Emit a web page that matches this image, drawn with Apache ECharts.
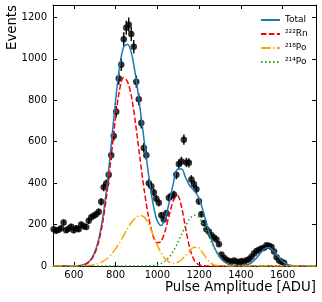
<!DOCTYPE html>
<html>
<head>
<meta charset="utf-8">
<script src="https://cdn.jsdelivr.net/npm/echarts@6/dist/echarts.min.js"></script>
<style>html,body{margin:0;padding:0;background:#fff}#c{width:322px;height:302px}</style>
</head>
<body>
<div id="c"></div>
<script>
// Histogram data (bin centers in ADU, counts)
const binCenters = [503,515,527,539,551,563,575,587,599,611,623,635,647,659,671,683,695,707,719,731,743,755,767,779,791,803,815,827,839,851,863,875,887,899,911,923,935,947,959,971,983,995,1007,1019,1031,1043,1055,1067,1079,1091,1103,1115,1127,1139,1151,1163,1175,1187,1199,1211,1223,1235,1247,1259,1271,1283,1295,1307,1319,1331,1343,1355,1367,1379,1391,1403,1415,1427,1439,1451,1463,1475,1487,1499,1511,1523,1535,1547,1559,1571,1583,1595,1607];
const counts = [178,170,175,182,210,172,180,190,172,182,
  178,200,192,188,218,235,242,250,262,310,
  380,398,440,535,628,745,905,972,1095,1150,
  1165,1120,1058,890,805,690,570,535,400,385,
  355,325,305,245,225,255,330,338,345,440,
  492,505,610,500,498,418,395,370,312,250,
  208,178,165,148,138,128,105,56,40,30,
  24,20,26,22,18,24,20,28,32,45,
  60,72,78,84,88,100,98,92,70,42,
  26,20,14];
// Fit curves
const curveX = [500,519,539,559,579,599,618,638,658,678,698,718,738,758,778,798,818,838,857,877,897,917,937,957,977,997,1017,1037,1057,1077,1096,1116,1136,1156,1176,1196,1216,1236,1256,1276,1296,1315,1335,1355,1375,1395,1415,1435,1455,1475,1495,1515,1534,1554,1574,1594,1614,1634,1654,1674,1694,1714,1734,1760];
const totalY = [0,0,0,0,0,0,1,4,11,27,62,125,230,383,575,781,957,1056,1070,1023,909,762,603,447,313,224,195,228,308,401,467,468,425,387,364,335,277,203,135,83,48,25,12,5,2,1,2,7,19,39,64,85,89,76,51,28,12,4,1,0,0,0,0,0];
const rn222Y = [0,0,0,0,0,0,1,3,9,24,55,113,209,348,521,701,846,910,890,812,676,518,366,242,154,112,118,168,246,317,340,285,179,84,29,8,2,0,0,0,0,0,0,0,0,0,0,0,0,0,0,0,0,0,0,0,0,0,0,0,0,0,0,0];
const po218Y = [0,0,0,0,0,0,0,1,2,3,7,12,21,35,54,80,111,146,180,211,233,244,236,204,157,107,65,36,19,12,17,30,51,74,90,89,65,35,14,4,1,0,0,0,0,0,0,0,0,0,0,0,0,0,0,0,0,0,0,0,0,0,0,0];
const po214Y = [0,0,0,0,0,0,0,0,0,0,0,0,0,0,0,0,0,0,0,0,0,0,1,1,2,5,12,24,43,72,110,153,195,229,245,238,210,168,121,79,47,25,12,5,2,1,0,0,0,0,0,0,0,0,0,0,0,0,0,0,0,0,0,0];
const xTickValues = [600,800,1000,1200,1400,1600];
const yTickValues = [0,200,400,600,800,1000,1200];
const legendNames = ['Total','\u00b2\u00b2\u00b2Rn','\u00b2\u00b9\u2078Po','\u00b2\u00b9\u2074Po'];

const FONT = 'DejaVu Sans';
const pts = binCenters.map((x,i)=>[x,counts[i],Math.sqrt(counts[i])]);
const zip = (ys)=>curveX.map((x,i)=>[x,ys[i]]);

const chart = echarts.init(document.getElementById('c'), null, {renderer:'canvas'});
const axisBase = (pos, show) => {
  const isX = pos==='top'||pos==='bottom';
  return {
    type:'value', position:pos, min: isX?500:0, max: isX?1760:1260,
    axisLine:{show:true,onZero:false,lineStyle:{color:'#000',width:1}},
    axisTick:{show:true,inside:true,length:4,customValues:isX?xTickValues:yTickValues,lineStyle:{color:'#000',width:1}},
    axisLabel:{show:show,customValues:isX?xTickValues:yTickValues,formatter:(v)=>String(v),color:'#000',fontSize:10,fontFamily:FONT,margin:(pos==='bottom'?4:6)},
    splitLine:{show:false}
  };
};
const lineSeries = (name, data, color, type, z) => ({
  name, type:'line', data, smooth:0.3, symbol:'none', showSymbol:false, z,
  lineStyle:{color, width:1.5, type},
  itemStyle:{color}, clip:true
});
chart.setOption({
  animation:false,
  backgroundColor:'#fff',
  grid:{left:53,right:6,top:5,bottom:36,containLabel:false},
  xAxis:[axisBase('bottom',true), axisBase('top',false)],
  yAxis:[axisBase('left',true), axisBase('right',false)],
  legend:{
    data:legendNames, orient:'vertical', left:255, top:10, itemWidth:19, itemHeight:10, itemGap:4,
    itemStyle:{opacity:0},
    textStyle:{fontSize:9,fontFamily:FONT,color:'#000',lineHeight:10}, selectedMode:false
  },
  series:[
    {type:'custom', name:'err', data:pts, z:2, clip:true,
     renderItem:(params, api)=>{
       const x=api.value(0), y=api.value(1), e=api.value(2);
       const a=api.coord([x,y-e]), b=api.coord([x,y+e]);
       return {type:'line', shape:{x1:a[0],y1:a[1],x2:b[0],y2:b[1]}, style:{stroke:'#000',lineWidth:1.4}};
     }},
    {type:'scatter', name:'data', data:pts.map(p=>[p[0],p[1]]), symbol:'circle', symbolSize:6.5, itemStyle:{color:'#000'}, z:2},
    lineSeries(legendNames[0], zip(totalY), '#1f77b4', 'solid', 3),
    lineSeries(legendNames[1], zip(rn222Y), '#ff0000', [5.5,2.4], 4),
    lineSeries(legendNames[2], zip(po218Y), '#ffa500', [9.6,2.4,1.5,2.4], 5),
    lineSeries(legendNames[3], zip(po214Y), '#2ca02c', [1.5,2.5], 6)
  ],
  graphic:[
    {type:'text', right:6, top:281, style:{text:'Pulse Amplitude [ADU]', font:'13.3px "DejaVu Sans"', fill:'#000'}},
    {type:'text', x:13, y:5, rotation:Math.PI/2, style:{text:'Events', font:'13.3px "DejaVu Sans"', fill:'#000', align:'right', verticalAlign:'middle'}}
  ]
});
</script>
</body>
</html>
